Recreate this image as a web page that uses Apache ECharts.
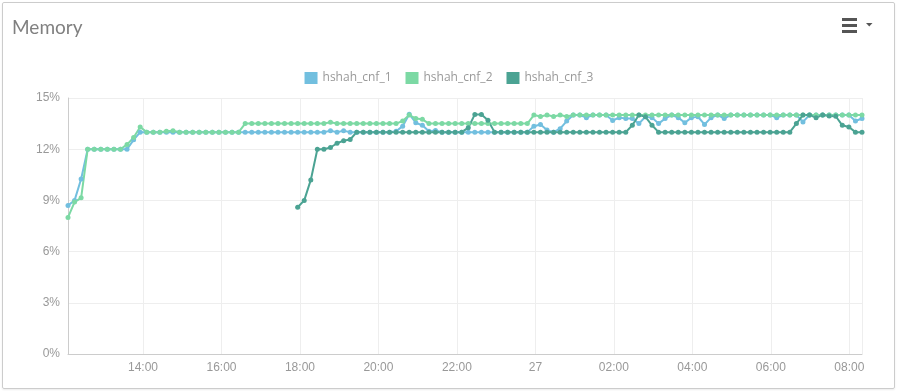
<!DOCTYPE html>
<html>
<head>
<meta charset="utf-8">
<script src="https://cdn.jsdelivr.net/npm/echarts@6/dist/echarts.min.js"></script>
<style>
html,body{margin:0;padding:0;background:#fff;}
#wrap{position:relative;width:898px;height:391px;}
#chart{position:absolute;left:0;top:0;width:898px;height:391px;}
#frame{position:absolute;left:2px;top:2px;width:891px;height:385px;border:1px solid #cccccc;border-radius:2px;pointer-events:none;box-shadow:0 1px 2px rgba(0,0,0,0.08);}
</style>
</head>
<body>
<div id="wrap"><div id="chart"></div><div id="frame"></div></div>
<script>
// ---- data ----
const titleText = 'Memory';
const seriesNames = ['hshah_cnf_1', 'hshah_cnf_2', 'hshah_cnf_3'];
const seriesColors = ['#72bfdf', '#7cd9a4', '#4ba393'];
const startTime = new Date(2020, 4, 26, 12, 5, 20).getTime();
const stepMs = 602 * 1000;
const yTicks = [0, 3, 6, 9, 12, 15];

const cnf1 = [
  8.7, 9.0, 10.25, 12, 12, 12, 12, 12, 12, 12,
  12.55, 13, 13, 13, 13, 13, 13, 13, 13, 13,
  13, 13, 13, 13, 13, 13, 13, 13, 13, 13,
  13, 13, 13, 13, 13, 13, 13, 13, 13, 13,
  13.08, 13, 13.08, 13, 13, 13, 13, 13, 13, 13,
  13.05, 13.35, 14.05, 13.55, 13.4, 13.05, 13.1, 13, 13, 13,
  13, 13, 13, 13, 13, 13, 13, 13, 13, 13,
  13, 13.35, 13.45, 13.12, 13, 13.2, 13.65, 14, 14, 13.85,
  14, 14, 14, 13.68, 13.85, 13.8, 13.8, 13.5, 13.9, 13.85,
  13.5, 13.8, 14, 13.85, 13.55, 13.85, 13.9, 13.45, 13.85, 14,
  13.8, 14, 14, 14, 14, 14, 14, 14, 13.85, 14,
  14, 14, 13.6, 14, 14, 14, 14, 14, 14, 14,
  13.65, 13.8
];
const cnf2 = [
  8.0, 8.9, 9.15, 12, 12, 12, 12, 12, 12, 12.28,
  12.68, 13.3, 13, 13, 13, 13.05, 13.08, 13, 13, 13,
  13, 13, 13, 13, 13, 13, 13, 13.5, 13.5, 13.5,
  13.5, 13.5, 13.5, 13.5, 13.5, 13.5, 13.5, 13.5, 13.5, 13.5,
  13.58, 13.5, 13.5, 13.5, 13.5, 13.5, 13.5, 13.5, 13.5, 13.5,
  13.5, 13.65, 14.0, 13.8, 13.75, 13.5, 13.5, 13.5, 13.5, 13.5,
  13.5, 13.5, 13.5, 13.5, 13.5, 13.5, 13.5, 13.5, 13.5, 13.5,
  13.5, 14, 13.92, 14, 13.92, 14, 13.92, 14, 14, 14,
  14, 14, 14, 14, 14, 14, 14, 14, 14, 14,
  14, 14, 14, 14, 14, 14, 14, 14, 14, 14,
  14, 14, 14, 14, 14, 14, 14, 14, 14, 14,
  14, 14, 14, 14, 14, 14, 14, 14, 14, 14,
  14, 14
];
const cnf3 = [
  null, null, null, null, null, null, null, null, null, null,
  null, null, null, null, null, null, null, null, null, null,
  null, null, null, null, null, null, null, null, null, null,
  null, null, null, null, null, 8.6, 9.0, 10.2, 12, 12,
  12.1, 12.35, 12.5, 12.57, 13, 13, 13, 13, 13, 13,
  13, 13, 13, 13, 13, 13, 13, 13, 13, 13,
  13, 13.26, 14.04, 14.04, 13.7, 13, 13, 13, 13, 13,
  13, 13, 13, 13, 13, 13, 13, 13, 13, 13,
  13, 13, 13, 13, 13, 13, 13.4, 14, 13.9, 13.4,
  13, 13, 13, 13, 13, 13, 13, 13, 13, 13,
  13, 13, 13, 13, 13, 13, 13, 13, 13, 13,
  13, 13.5, 14, 14, 13.85, 14, 13.95, 13.93, 13.4, 13.3,
  13, 13
];
const seriesValues = [cnf1, cnf2, cnf3];

// ---- build ----
function toPairs(vals) {
  const out = [];
  vals.forEach(function (v, i) {
    if (v !== null) out.push([startTime + i * stepMs, v]);
  });
  return out;
}
function pad(n) { return (n < 10 ? '0' : '') + n; }

const chart = echarts.init(document.getElementById('chart'), null, { renderer: 'canvas' });
const labelColor = '#999';
const option = {
  animation: false,
  color: seriesColors,
  title: {
    text: titleText,
    left: 7,
    top: 13,
    textStyle: { fontFamily: 'Lato', fontSize: 19, fontWeight: 'normal', color: '#808080' }
  },
  legend: {
    data: seriesNames,
    top: 67,
    left: 'center',
    itemWidth: 13,
    itemHeight: 12,
    itemGap: 14,
    icon: 'rect',
    textStyle: { color: '#999', fontSize: 12, fontFamily: 'Open Sans' }
  },
  grid: { left: 68, right: 36, top: 98, bottom: 37, containLabel: false },
  xAxis: {
    type: 'time',
    min: 'dataMin',
    max: 'dataMax',
    minInterval: 2.5 * 3600 * 1000,
    maxInterval: 2.5 * 3600 * 1000,
    axisLine: { show: true, lineStyle: { color: '#ccc' } },
    axisTick: { show: false },
    splitLine: { show: true, lineStyle: { color: '#eeeeee' } },
    axisLabel: {
      color: labelColor,
      fontSize: 12,
      margin: 8,
      fontWeight: 'normal',
      formatter: function (v) {
        const d = new Date(v);
        if (d.getHours() === 0 && d.getMinutes() === 0) return String(d.getDate());
        return pad(d.getHours()) + ':' + pad(d.getMinutes());
      }
    }
  },
  yAxis: {
    type: 'value',
    min: yTicks[0],
    max: yTicks[yTicks.length - 1],
    interval: 3,
    axisLine: { show: true, lineStyle: { color: '#ccc' } },
    axisTick: { show: false },
    splitLine: { show: true, lineStyle: { color: '#eeeeee' } },
    axisLabel: { color: labelColor, fontSize: 12, margin: 8, formatter: '{value}%' }
  },
  series: seriesNames.map(function (name, k) {
    return {
      name: name,
      type: 'line',
      data: toPairs(seriesValues[k]),
      symbol: 'circle',
      symbolSize: 5,
      showSymbol: true,
      showAllSymbol: true,
      lineStyle: { width: 2 },
      itemStyle: { color: seriesColors[k] },
      emphasis: { disabled: true }
    };
  }),
  graphic: [
    { type: 'rect', shape: { x: 842, y: 18, width: 15, height: 3 }, style: { fill: '#555' } },
    { type: 'rect', shape: { x: 842, y: 24, width: 15, height: 3 }, style: { fill: '#555' } },
    { type: 'rect', shape: { x: 842, y: 30, width: 15, height: 3 }, style: { fill: '#555' } },
    { type: 'polygon', shape: { points: [[866, 23], [872.5, 23], [869.25, 26.5]] }, style: { fill: '#555' } }
  ]
};
chart.setOption(option);
</script>
</body>
</html>
